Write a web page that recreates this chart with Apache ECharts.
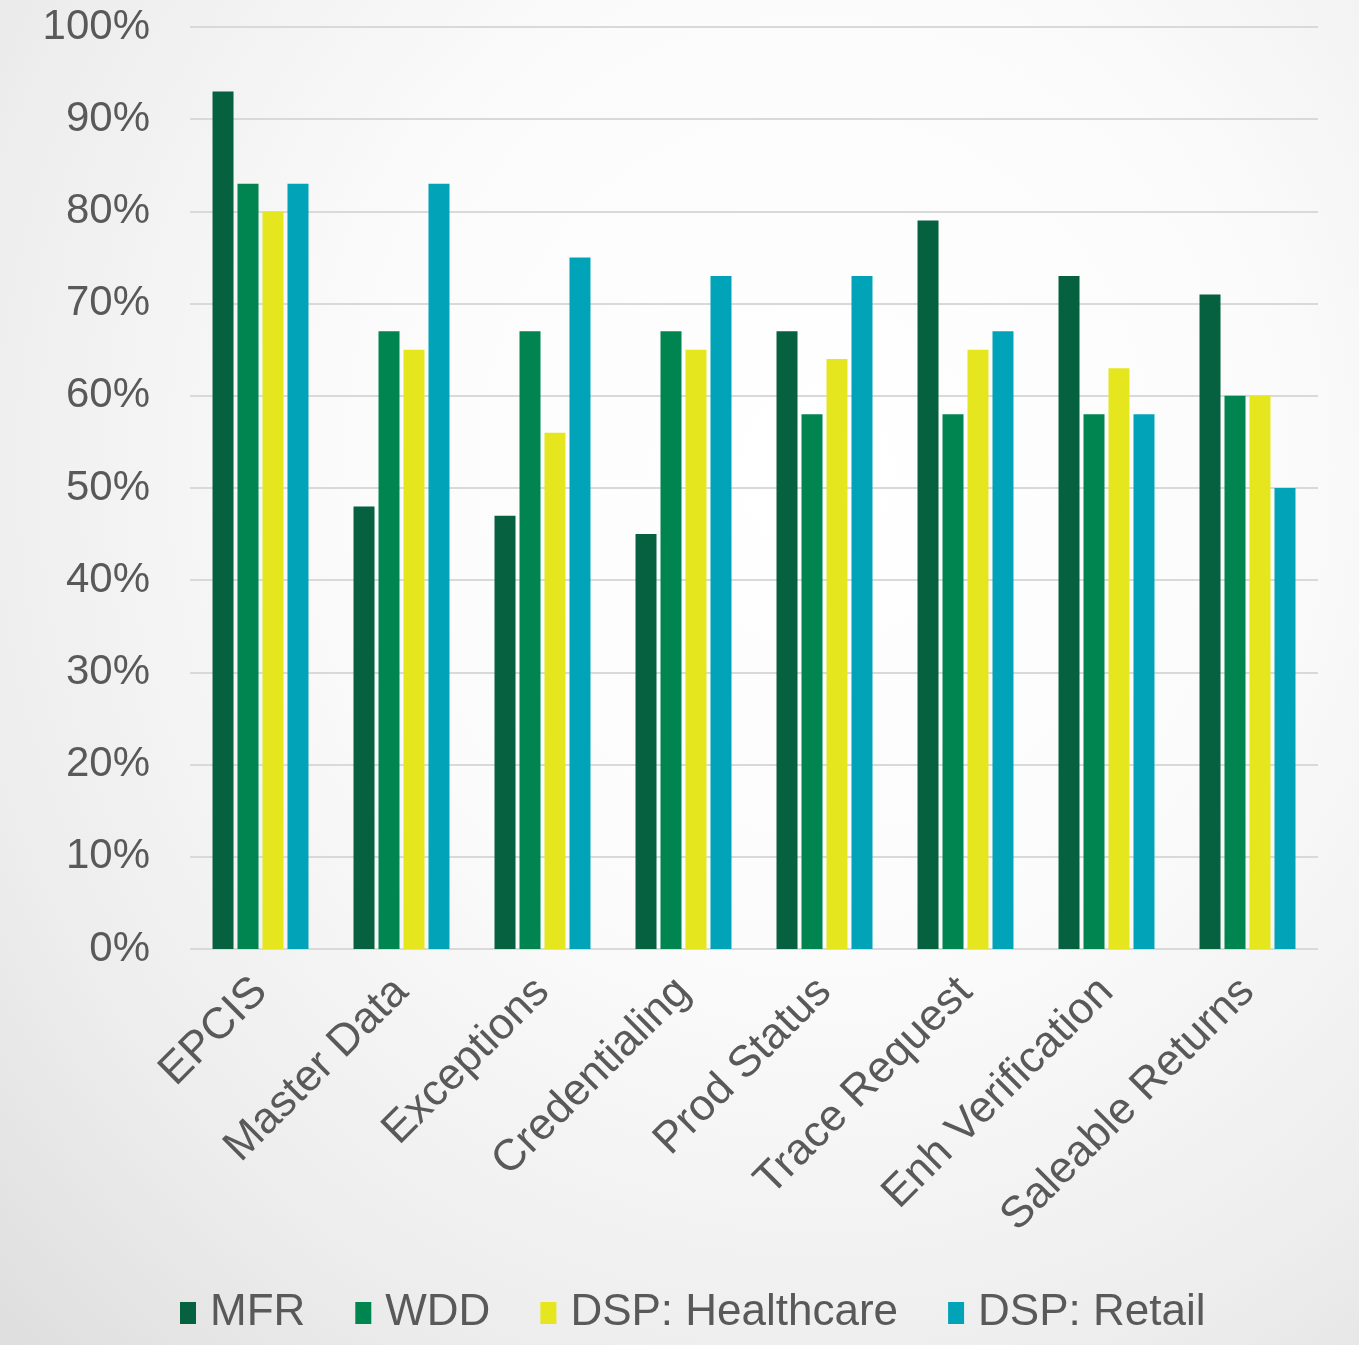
<!DOCTYPE html>
<html><head><meta charset="utf-8">
<script src="https://cdn.jsdelivr.net/npm/echarts@6/dist/echarts.min.js"></script>
<style>
html,body{margin:0;padding:0;width:1359px;height:1345px;overflow:hidden;}
body{background:radial-gradient(ellipse at 60% 35%, #ffffff 0%, #fbfbfb 40%, #ededed 75%, #dedede 100%);}
#c{width:1359px;height:1345px;}
</style></head><body>
<div id="c"></div>
<script>
const categories = ["EPCIS","Master Data","Exceptions","Credentialing","Prod Status","Trace Request","Enh Verification","Saleable Returns"];
const seriesNames = ["MFR","WDD","DSP: Healthcare","DSP: Retail"];
const mfr = [93,48,47,45,67,79,73,71];
const wdd = [83,67,67,67,58,58,58,60];
const dspHealthcare = [80,65,56,65,64,65,63,60];
const dspRetail = [83,83,75,73,73,67,58,50];
const colors = ["#05613F","#008450","#E6E61E","#00A3B8"];
const values = [mfr, wdd, dspHealthcare, dspRetail];

const chart = echarts.init(document.getElementById('c'), null, {renderer:'canvas'});
chart.setOption({
  backgroundColor: 'transparent',
  textStyle:{fontFamily:'Liberation Sans, Arial, sans-serif'},
  grid:{left:190, right:41, top:27, bottom:396, containLabel:false},
  legend:{
    top:1286, left:175, itemWidth:16, itemHeight:22, itemGap:50,
    icon:'rect',
    textStyle:{fontSize:44, color:'#595959', fontFamily:'Liberation Sans, Arial, sans-serif', padding:[0,0,0,9]},
    data: seriesNames
  },
  xAxis:{
    type:'category', data:categories,
    axisLine:{show:false}, axisTick:{show:false},
    axisLabel:{rotate:45, fontSize:44, color:'#595959', margin:36, interval:0}
  },
  yAxis:{
    type:'value', min:0, max:100, interval:10,
    axisLabel:{formatter:'{value}%', fontSize:42, color:'#595959', margin:40},
    splitLine:{lineStyle:{color:'#d9d9d9', width:2}},
    axisLine:{show:false}, axisTick:{show:false}
  },
  series: seriesNames.map((n,i)=>({
    name:n, type:'bar', data:values[i], barWidth:21, barGap:'19%',
    itemStyle:{color:colors[i]}
  }))
});
</script>
</body></html>
